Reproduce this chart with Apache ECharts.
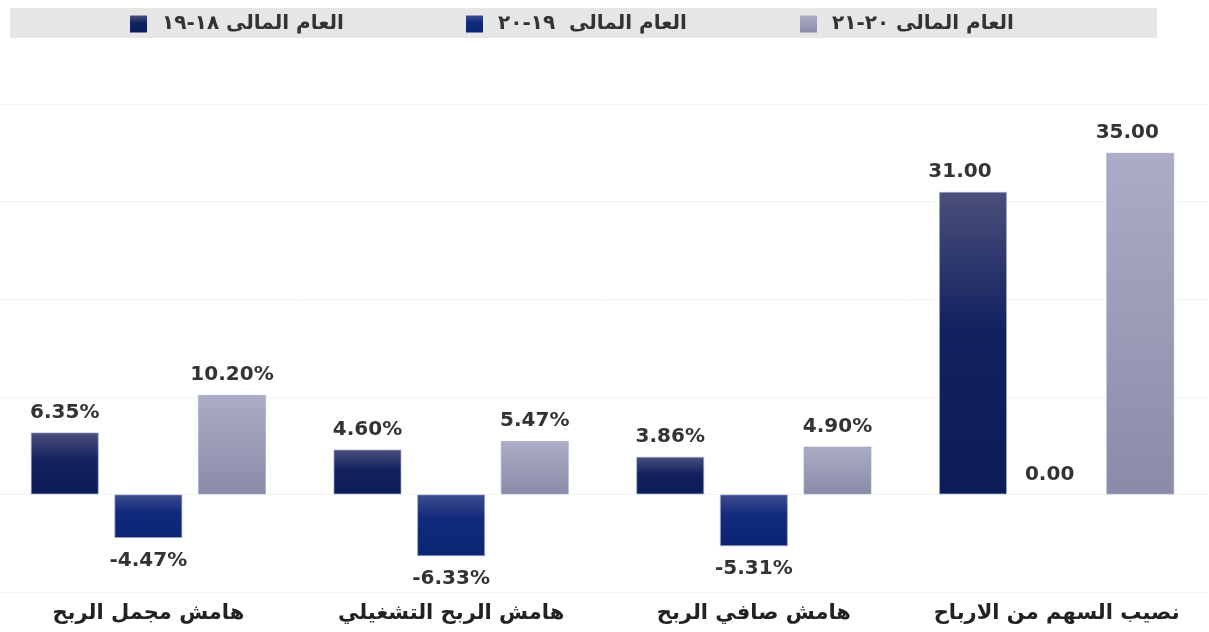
<!DOCTYPE html>
<html lang="ar">
<head>
<meta charset="utf-8">
<script src="https://cdn.jsdelivr.net/npm/echarts@6/dist/echarts.min.js"></script>
<style>
  html, body { margin: 0; padding: 0; background: #fff; overflow: hidden; }
  /* chart is shifted a few px left so the first band starts off-screen like the original */
  #chart { position: absolute; left: -4px; top: 0; width: 1213px; height: 632px; }
</style>
</head>
<body>
<div id="chart"></div>
<script>
// categories & series values
const categories = ['هامش مجمل الربح', 'هامش الربح التشغيلي', 'هامش صافي الربح', 'نصيب السهم من الارباح']
const seriesNames = ['العام المالى ١٨-١٩', 'العام المالى  ١٩-٢٠', 'العام المالى ٢٠-٢١']
const fy1819 = [6.35, 4.60, 3.86, 31.00]
const fy1920 = [-4.47, -6.33, -5.31, 0.00]
const fy2021 = [10.20, 5.47, 4.90, 35.00]
// last category is a value per share, not a percentage
const percentFlags = [true, true, true, false]

const FONT = 'DejaVu Sans'
const SHIFT = 4

const grad = (stops) => new echarts.graphic.LinearGradient(0, 0, 0, 1,
    stops.map(s => ({ offset: s[0], color: s[1] })))

const palette = [
    grad([[0, '#4b4f7b'], [0.45, '#122260'], [1, '#0b1c57']]),
    grad([[0, '#3e4d8e'], [0.4, '#122a7c'], [1, '#0b2472']]),
    grad([[0, '#abacc5'], [1, '#8a8ba7']])
]

const makeData = (vals) => vals.map((v, i) => {
    const item = { value: v }
    if (v < 0) {
        item.label = { position: 'bottom', distance: 13 }
    }
    if (!percentFlags[i]) {
        item.label = { offset: [v === 0 ? -7 : -13, 0] }
    }
    if (v === 0) {
        item.itemStyle = { borderWidth: 0 }
    }
    return item
})

const makeSeries = (name, vals, idx) => ({
    name: name,
    type: 'bar',
    barWidth: 68,
    barGap: '23%',
    barCategoryGap: '22%',
    data: makeData(vals),
    itemStyle: {
        color: palette[idx],
        borderColor: 'rgba(160,168,205,0.7)',
        borderWidth: 1
    },
    label: {
        show: true,
        position: 'top',
        distance: 10,
        fontFamily: FONT,
        fontSize: 20,
        fontWeight: 'bold',
        color: '#333',
        formatter: (p) => p.value.toFixed(2) + (percentFlags[p.dataIndex] ? '%' : '')
    }
})

const legendLefts = [130, 466, 800]
const makeLegend = (name, i) => ({
    top: 14,
    left: legendLefts[i] + SHIFT,
    padding: 0,
    itemWidth: 17,
    itemHeight: 17,
    icon: 'rect',
    itemStyle: { borderWidth: 0 },
    textStyle: { fontFamily: FONT, fontSize: 20, fontWeight: 'bold', color: '#333', padding: [0, 0, 0, 10] },
    data: [name]
})

const chart = echarts.init(document.getElementById('chart'))

chart.setOption({
    animation: false,
    textStyle: { fontFamily: FONT },
    graphic: [{
        type: 'rect',
        z: -1,
        shape: { x: 10 + SHIFT, y: 8, width: 1147, height: 30 },
        style: { fill: '#e6e6e6' }
    }],
    legend: seriesNames.map(makeLegend),
    grid: { left: 1, right: 1, top: 104, bottom: 40, containLabel: false },
    xAxis: {
        type: 'category',
        data: categories,
        axisLine: { show: false, onZero: false },
        axisTick: { show: false },
        axisLabel: {
            interval: 0,
            margin: 11,
            fontFamily: FONT,
            fontSize: 21,
            fontWeight: 'bold',
            color: '#222'
        }
    },
    yAxis: {
        type: 'value',
        min: -10,
        max: 40,
        interval: 10,
        axisLabel: { show: false },
        axisLine: { show: false },
        axisTick: { show: false },
        splitLine: { lineStyle: { color: '#f4f4f4' } }
    },
    series: [
        makeSeries(seriesNames[0], fy1819, 0),
        makeSeries(seriesNames[1], fy1920, 1),
        makeSeries(seriesNames[2], fy2021, 2)
    ]
})
</script>
</body>
</html>
